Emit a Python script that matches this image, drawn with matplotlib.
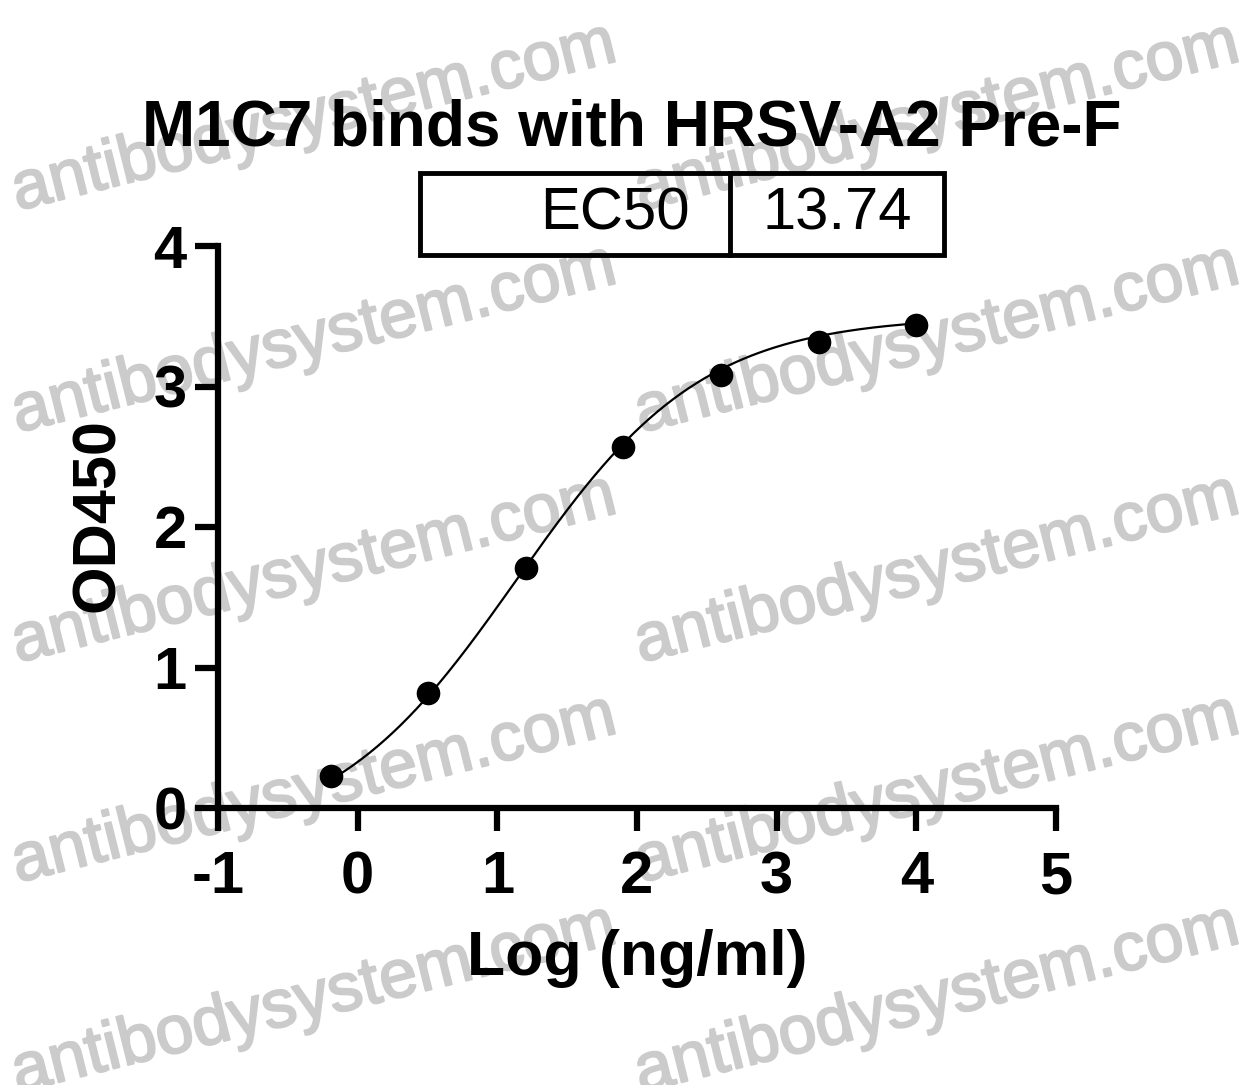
import matplotlib.pyplot as plt
import matplotlib.patheffects as pe
import numpy as np
from matplotlib.patches import Rectangle

plt.rcParams['font.family'] = ['Liberation Sans', 'DejaVu Sans']

# Data: log10 concentration (ng/ml) and OD450 readings
log_conc = [-0.194, 0.505, 1.204, 1.903, 2.602, 3.301, 4.0]
od450 = [0.228, 0.818, 1.708, 2.569, 3.082, 3.317, 3.438]

# 4PL fit parameters, EC50 in ng/ml
ec50 = 13.74
fit_bottom = -0.25
fit_top = 3.5
fit_hill = 0.65

title = 'M1C7 binds with HRSV-A2 Pre-F'
x_ticks = [-1, 0, 1, 2, 3, 4, 5]
y_ticks = [0, 1, 2, 3, 4]

fig = plt.figure(figsize=(12.51, 10.85), dpi=100)
ax = fig.add_axes([218 / 1251, 1 - 808 / 1085, 838 / 1251, 562 / 1085])
ax.patch.set_alpha(0)

# fitted curve
xs = np.linspace(min(log_conc), max(log_conc), 300)
ys = fit_bottom + (fit_top - fit_bottom) / (1 + 10 ** ((np.log10(ec50) - xs) * fit_hill))
ax.plot(xs, ys, color='black', lw=1.6, zorder=3)
ax.plot(log_conc, od450, 'o', color='black', markersize=16, zorder=4)

ax.set_xlim(-1, 5)
ax.set_ylim(0, 4)
ax.set_xticks(x_ticks)
ax.set_yticks(y_ticks)
ax.set_xticklabels([str(t) for t in x_ticks], fontsize=43, fontweight='bold')
ax.set_yticklabels([str(t) for t in y_ticks], fontsize=43, fontweight='bold')
ax.tick_params(axis='both', length=16.5, width=4.5, direction='out', color='black')
ax.tick_params(axis='x', pad=14)
ax.tick_params(axis='y', pad=6)
for side in ['top', 'right']:
    ax.spines[side].set_visible(False)
for side in ['left', 'bottom']:
    ax.spines[side].set_linewidth(4.5)

ax.set_xlabel('Log (ng/ml)', fontsize=45, fontweight='bold')
ax.set_ylabel('OD450', fontsize=44, fontweight='bold')
ax.xaxis.set_label_coords(0.5, -0.215)
ax.yaxis.set_label_coords(-0.108, 0.521)

fig.text(632 / 1251, 1 - 128 / 1085, title, fontsize=46, fontweight='bold',
         ha='center', va='center')

# EC50 box
bx0, bx1, bdiv = (420 - 218) / 838, (944 - 218) / 838, (730 - 218) / 838
by0, by1 = (808 - 255) / 562, (808 - 173) / 562
ax.add_patch(Rectangle((bx0, by0), bx1 - bx0, by1 - by0, transform=ax.transAxes,
                       fill=False, lw=3.5, edgecolor='black', clip_on=False))
ax.plot([bdiv, bdiv], [by0, by1], transform=ax.transAxes, color='black', lw=3.5,
        clip_on=False)
ax.text(bdiv - 0.048, (by0 + by1) / 2, 'EC50', transform=ax.transAxes,
        fontsize=43, ha='right', va='center')
ax.text((bdiv + bx1) / 2, (by0 + by1) / 2, f'{ec50:.2f}', transform=ax.transAxes,
        fontsize=43, ha='center', va='center')

# watermark
wm_color = '#cbcbcb'
for cx in [314, 937]:
    for cy in [118, 340, 570, 790, 1000]:
        fig.text(cx / 1251, 1 - cy / 1085, 'antibodysystem.com', fontsize=49,
                 color=wm_color, rotation=14, rotation_mode='anchor',
                 ha='center', va='center', zorder=-1,
                 path_effects=[pe.withStroke(linewidth=1.5, foreground=wm_color)])

fig.savefig('out.png', dpi=100)
